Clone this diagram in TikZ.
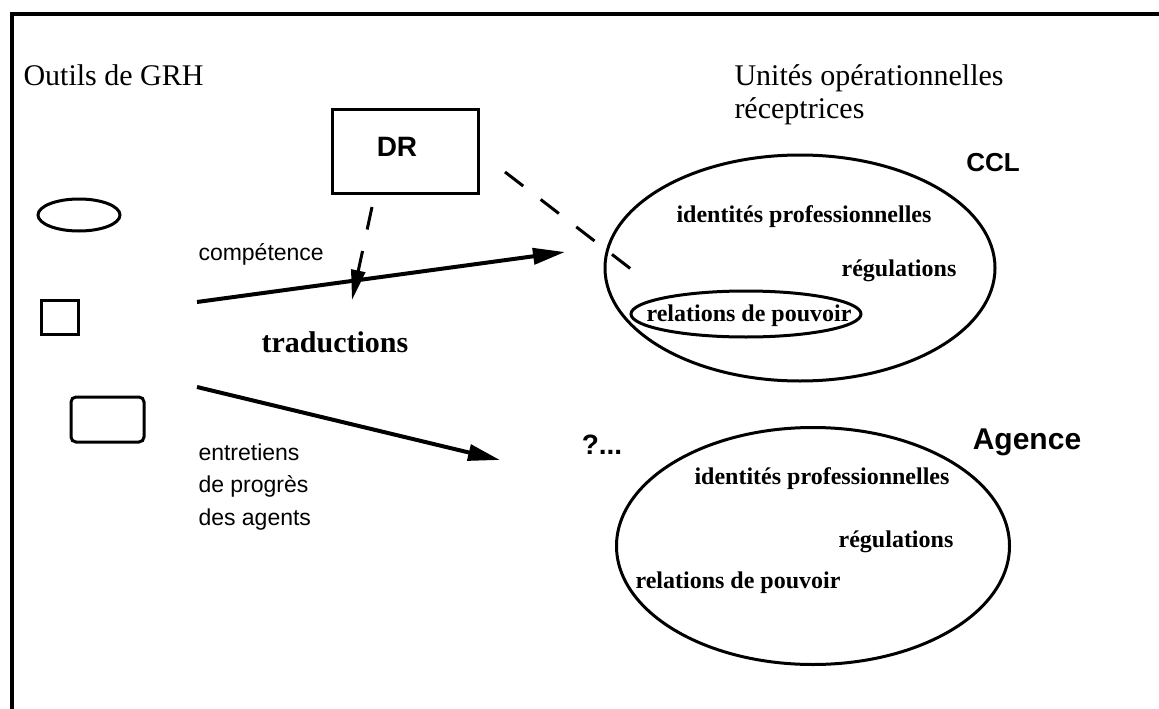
\documentclass[tikz,border=0pt]{standalone}
\usepackage{fontspec}
\setmainfont{Liberation Serif}
\setsansfont{Liberation Sans}
\usetikzlibrary{arrows.meta,shapes.geometric}
\begin{document}
\begin{tikzpicture}[x=1pt,y=-1pt,line width=3pt,
  titre/.style={anchor=base west,inner sep=0pt,align=left,font=\fontsize{30}{33}\selectfont},
  outil/.style={anchor=base west,inner sep=0pt,align=left,font=\sffamily\fontsize{23}{32.5}\selectfont},
  theme/.style={inner sep=0pt,font=\bfseries\fontsize{24}{28}\selectfont},
  unite/.style={inner sep=0pt,font=\sffamily\bfseries\fontsize{28}{30}\selectfont},
  fleche/.style={line width=4pt,-{Triangle[length=32pt,width=16pt]}},
  tirets/.style={dash pattern=on 23pt off 22pt}]
\useasboundingbox (0,0) rectangle (1159,709);
\draw[line width=3.5pt] (12,709) -- (12,14) -- (1159,14);
\node[titre] (outils) at (22,85) {Outils de GRH};
\node[titre] (unites) at (733,118) {Unités opérationnelles\\réceptrices};
\node[draw,minimum width=146pt,minimum height=84pt] (dr) at (405,151) {};
\node[unite] (drtxt) at (397,147) {DR};
\draw (79,215) ellipse [x radius=41, y radius=16];
\draw (41,300) rectangle (78,334);
\draw[rounded corners=5pt] (71,397) rectangle (144,442);
\node[outil] (comp) at (197,260) {compétence};
\node[font=\bfseries\fontsize{30}{32}\selectfont,inner sep=0pt] (trad) at (335,342) {traductions};
\node[outil] (entr) at (197,525) {entretiens\\de progrès\\des agents};
\node[ellipse,draw,minimum width=390pt,minimum height=226pt] (ccl) at (800,268) {};
\node[unite,font=\sffamily\bfseries\fontsize{26}{30}\selectfont] (ccltxt) at (993,163) {CCL};
\node[theme] (idc) at (804,217) {identités professionnelles};
\node[theme] (regc) at (899,271) {régulations};
\node[ellipse,draw,inner sep=0pt,minimum width=230pt,minimum height=46pt] (relc) at (746,314) {};
\node[theme] (relctxt) at (749,316) {relations de pouvoir};
\node[ellipse,draw,minimum width=393pt,minimum height=237pt] (ag) at (813,546) {};
\node[unite,font=\sffamily\bfseries\fontsize{30}{32}\selectfont] (agtxt) at (1027,442) {Agence};
\node[unite] (quest) at (602,445) {?...};
\node[theme] (ida) at (822,479) {identités professionnelles};
\node[theme] (rega) at (896,542) {régulations};
\node[theme] (rela) at (738,583) {relations de pouvoir};
\coordinate (c1) at (197,302);
\coordinate (c2) at (565,252);
\coordinate (e1) at (197,387);
\coordinate (e2) at (500,460);
\coordinate (d1) at (372,207);
\coordinate (d2) at (352,300);
\coordinate (p1) at (505,172);
\coordinate (p2) at (640,276);
\draw[fleche] (c1) -- (c2);
\draw[fleche] (e1) -- (e2);
\draw[tirets,-{Triangle[length=30pt,width=14pt]}] (d1) -- (d2);
\draw[tirets] (p1) -- (p2);
\end{tikzpicture}
\end{document}
